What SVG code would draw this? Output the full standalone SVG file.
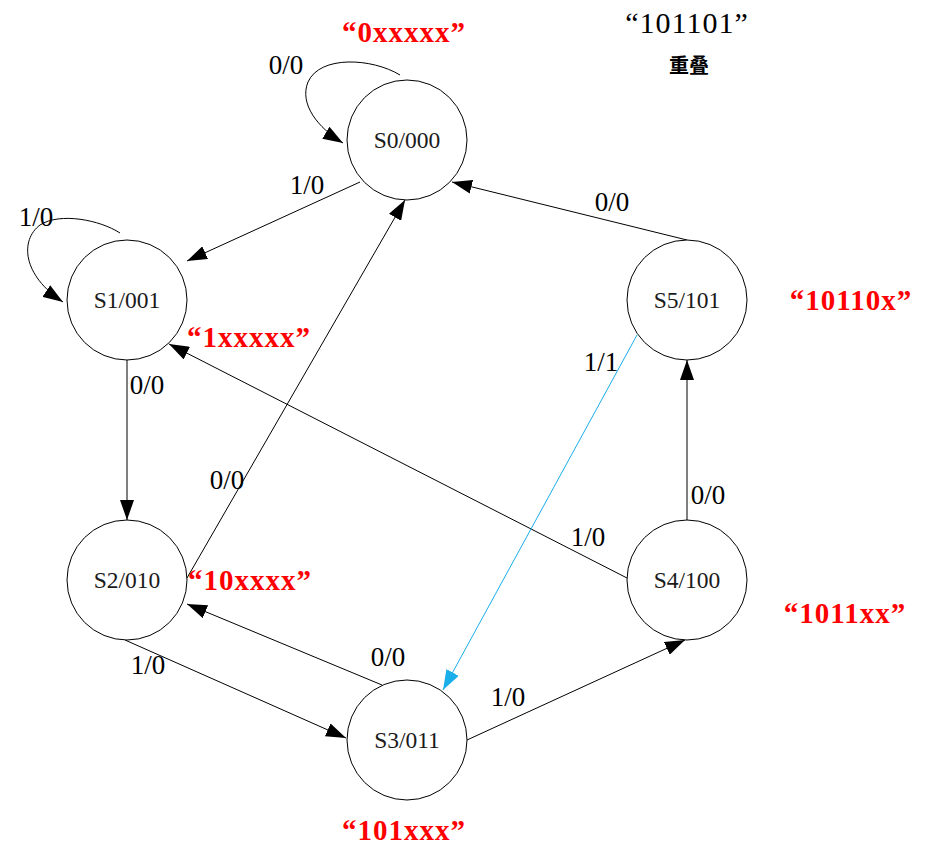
<svg xmlns="http://www.w3.org/2000/svg" width="940" height="861" viewBox="0 0 940 861">
<style>
.node circle{fill:#fff;stroke:#000;stroke-width:1}
.node text{font-family:"Liberation Serif","DejaVu Serif",serif;font-size:23.5px;fill:#1a1a1a;text-anchor:middle}
.edge{fill:none;stroke:#000;stroke-width:1}
.blue{stroke:#1aaeea}
.lbl{font-family:"Liberation Serif","DejaVu Serif",serif;font-size:27px;fill:#000;text-anchor:middle}
.red{font-family:"Liberation Serif","DejaVu Serif",serif;font-size:29px;font-weight:bold;fill:#ff0000;text-anchor:middle;letter-spacing:1px}
.title{font-family:"Liberation Serif","DejaVu Serif",serif;font-size:30px;fill:#000;text-anchor:middle;letter-spacing:1px}
.cjk{font-family:"Liberation Serif","Noto Sans CJK SC",sans-serif;font-size:20px;font-weight:bold;fill:#000;text-anchor:middle}
</style>
<defs>
<marker id="ah" markerUnits="userSpaceOnUse" markerWidth="20" markerHeight="14" refX="20" refY="7" orient="auto">
<path d="M0,0 L20,7 L0,14 Z" fill="#000"/>
</marker>
<marker id="ahb" markerUnits="userSpaceOnUse" markerWidth="20" markerHeight="14" refX="20" refY="7" orient="auto">
<path d="M0,0 L20,7 L0,14 Z" fill="#1aaeea"/>
</marker>
</defs>
<rect width="940" height="861" fill="#fff"/>
<g id="connectors">
<path class="edge" d="M400,75 C372,58 320,55 308,82 C299,104 318,128 343,143" marker-end="url(#ah)"/>
<path class="edge" d="M120,233 C100,220 60,212 40,225 C20,240 22,275 63,302" marker-end="url(#ah)"/>
<path class="edge" d="M360,182 L187,261" marker-end="url(#ah)"/>
<path class="edge" d="M127,360 L127,520" marker-end="url(#ah)"/>
<path class="edge" d="M187,578 L405,200" marker-end="url(#ah)"/>
<path class="edge" d="M687,240 L452,182" marker-end="url(#ah)"/>
<path class="edge" d="M382,685 L187,604" marker-end="url(#ah)"/>
<path class="edge" d="M125,640 L346,738" marker-end="url(#ah)"/>
<path class="edge" d="M467,740 L685,640" marker-end="url(#ah)"/>
<path class="edge" d="M687,520 L687,360" marker-end="url(#ah)"/>
<path class="edge" d="M627,578 L169,344" marker-end="url(#ah)"/>
<path class="edge blue" d="M637,335 L443,690" marker-end="url(#ahb)"/>
<text class="lbl" x="286" y="74">0/0</text>
<text class="lbl" x="307" y="194">1/0</text>
<text class="lbl" x="36" y="226">1/0</text>
<text class="lbl" x="147" y="394">0/0</text>
<text class="lbl" x="227" y="489">0/0</text>
<text class="lbl" x="612" y="211">0/0</text>
<text class="lbl" x="601" y="371">1/1</text>
<text class="lbl" x="708" y="504">0/0</text>
<text class="lbl" x="588" y="546">1/0</text>
<text class="lbl" x="388" y="666">0/0</text>
<text class="lbl" x="148" y="674">1/0</text>
<text class="lbl" x="508" y="706">1/0</text>
</g>
<g id="S0" class="node"><circle cx="407" cy="140" r="60"/><text x="407" y="148">S0/000</text></g>
<g id="S1" class="node"><circle cx="127" cy="300" r="60"/><text x="127" y="308">S1/001</text></g>
<g id="S2" class="node"><circle cx="127" cy="580" r="60"/><text x="127" y="588">S2/010</text></g>
<g id="S3" class="node"><circle cx="407" cy="740" r="60"/><text x="407" y="748">S3/011</text></g>
<g id="S4" class="node"><circle cx="687" cy="580" r="60"/><text x="687" y="588">S4/100</text></g>
<g id="S5" class="node"><circle cx="687" cy="300" r="60"/><text x="687" y="308">S5/101</text></g>
<g id="annotations">
<text class="red" x="404" y="42">“0xxxxx”</text>
<text class="red" x="249" y="347">“1xxxxx”</text>
<text class="red" x="250" y="590">“10xxxx”</text>
<text class="red" x="404" y="840">“101xxx”</text>
<text class="red" x="845" y="623">“1011xx”</text>
<text class="red" x="851" y="310">“10110x”</text>
<text class="title" x="687" y="33">“101101”</text>
<text class="cjk" x="689" y="73">重叠</text>
</g>
</svg>
